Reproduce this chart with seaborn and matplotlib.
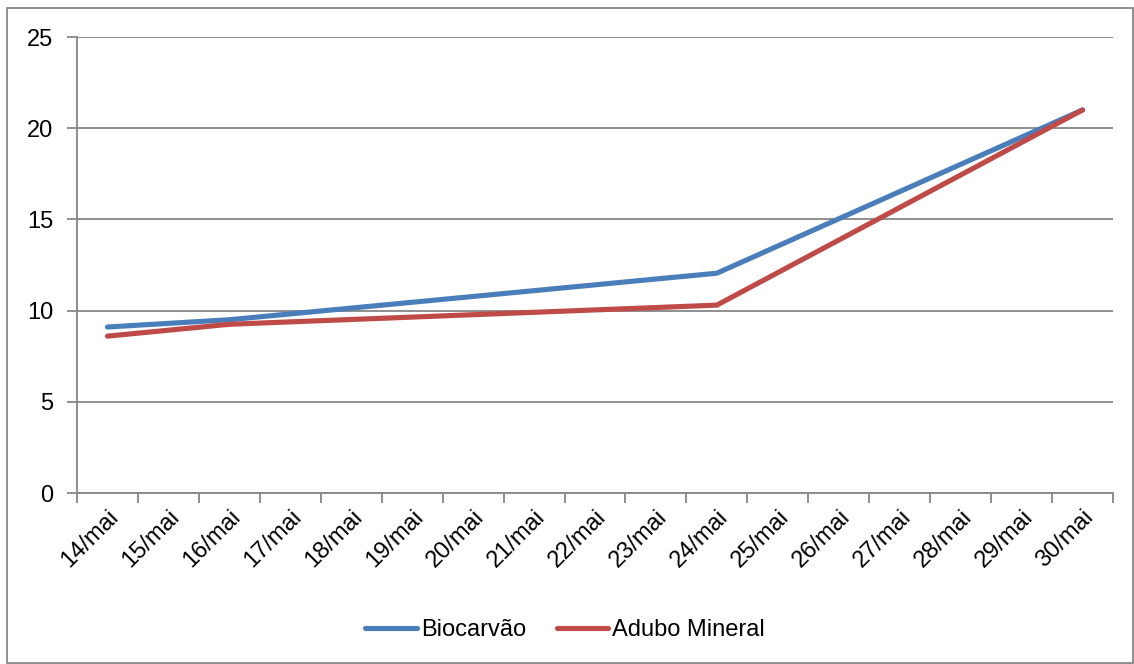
import matplotlib
matplotlib.use("Agg")
import matplotlib.pyplot as plt
import seaborn as sns
import pandas as pd
import numpy as np
from matplotlib.patches import Rectangle
from matplotlib.ticker import FixedLocator, NullFormatter

categories = ["14/mai", "15/mai", "16/mai", "17/mai", "18/mai", "19/mai", "20/mai",
              "21/mai", "22/mai", "23/mai", "24/mai", "25/mai", "26/mai", "27/mai",
              "28/mai", "29/mai", "30/mai"]
sample_dates = ["14/mai", "16/mai", "24/mai", "30/mai"]
biocarvao = [9.1, 9.5, 12.05, 21.0]
adubo_mineral = [8.6, 9.25, 10.3, 21.0]
series_names = ["Biocarvão", "Adubo Mineral"]
colors = ["#4A7EBB", "#BE4B48"]
yticks = [0, 5, 10, 15, 20, 25]

sns.set_theme(style="white")
plt.rcParams['font.family'] = ['Liberation Sans', 'DejaVu Sans']
plt.rcParams['text.color'] = 'black'
plt.rcParams['xtick.color'] = 'black'
plt.rcParams['ytick.color'] = 'black'

pos = [categories.index(d) for d in sample_dates]
df = pd.DataFrame({
    "x": pos * 2,
    "y": biocarvao + adubo_mineral,
    "serie": [series_names[0]] * len(pos) + [series_names[1]] * len(pos),
})

fig = plt.figure(figsize=(11.34, 6.64), dpi=100)
ax = fig.add_axes([77 / 1134, 1 - 493 / 664, (1113 - 77) / 1134, (493 - 37) / 664])

sns.lineplot(data=df, x="x", y="y", hue="serie", palette=colors, linewidth=3.7,
             ax=ax, legend=True, solid_capstyle="round", solid_joinstyle="round")

grid_c = "#868686"
ax.set_xlim(-0.5, len(categories) - 0.5)
ax.set_ylim(0, 25)
ax.set_yticks(yticks)
ax.yaxis.grid(True, color=grid_c, linewidth=1.3)
ax.set_axisbelow(True)
for s in ["top", "right"]:
    ax.spines[s].set_visible(False)
for s in ["left", "bottom"]:
    ax.spines[s].set_color(grid_c)
    ax.spines[s].set_linewidth(1.3)

ax.xaxis.set_major_locator(FixedLocator(np.arange(-0.5, len(categories), 1.0)))
ax.xaxis.set_major_formatter(NullFormatter())
ax.set_xticks(np.arange(len(categories)), minor=True)
ax.set_xticklabels(categories, minor=True, rotation=45, ha="right",
                   rotation_mode="anchor", fontsize=17, color="black")
ax.tick_params(axis="x", which="minor", length=0, pad=9)
ax.tick_params(axis="x", which="major", length=7, width=1.3, color=grid_c, direction="out", bottom=True)
ax.tick_params(axis="y", length=7, width=1.3, color=grid_c, direction="out", left=True,
               labelsize=17, labelcolor="black", pad=10)
ax.set_xlabel("")
ax.set_ylabel("")

handles, labels = ax.get_legend_handles_labels()
leg = ax.legend(handles, labels, loc="center", bbox_to_anchor=(565 / 1134, 1 - 630 / 664),
                bbox_transform=fig.transFigure, ncol=2, frameon=False, fontsize=17,
                handlelength=2.2, handletextpad=0.15, columnspacing=1.3)
for h in leg.get_lines():
    h.set_linewidth(3.7)
for t in leg.get_texts():
    t.set_color("black")

fig.patches.append(Rectangle((7 / 1134, 1 / 664), 1 - 8 / 1134, 1 - 9 / 664,
                             transform=fig.transFigure, fill=False,
                             edgecolor=grid_c, linewidth=1.3))

fig.savefig("out.png", dpi=100)
